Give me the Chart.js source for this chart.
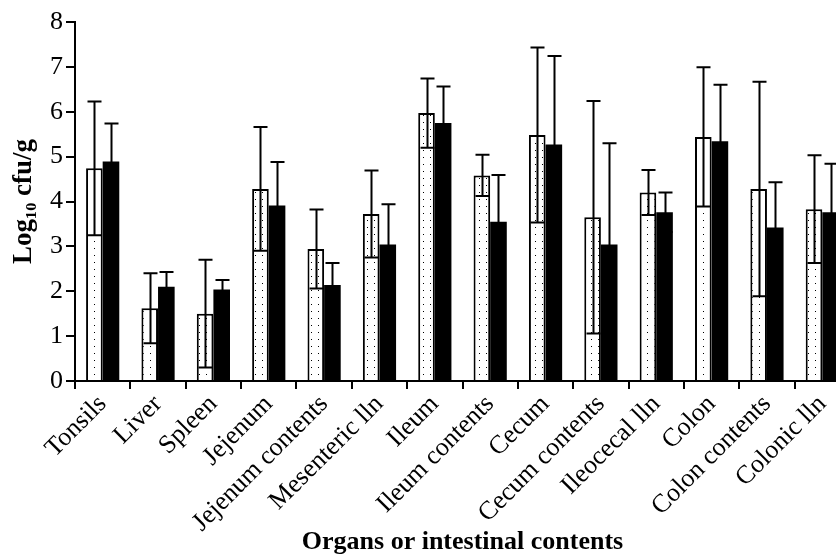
<!DOCTYPE html>
<html>
<head>
<meta charset="utf-8">
<script src="https://cdn.jsdelivr.net/npm/chart.js@4.4.1/dist/chart.umd.min.js"></script>
<style>
  html, body { margin: 0; padding: 0; background: #fff; overflow: hidden; }
  #wrap { width: 850px; height: 555px; }
</style>
</head>
<body>
<div id="wrap"><canvas id="organChart"></canvas></div>
<script>
const organs = ["Tonsils", "Liver", "Spleen", "Jejenum", "Jejenum contents", "Mesenteric lln", "Ileum",
  "Ileum contents", "Cecum", "Cecum contents", "Ileocecal lln", "Colon", "Colon contents", "Colonic lln"];

// dotted bars
const dottedMeans = [4.74, 1.62, 1.50, 4.28, 2.94, 3.72, 5.97, 4.58, 5.48, 3.65, 4.20, 5.44, 4.28, 3.83];
const dottedSd = [1.49, 0.78, 1.20, 1.38, 0.88, 0.97, 0.77, 0.46, 1.95, 2.59, 0.50, 1.55, 2.39, 1.20];

// black bars
const blackMeans = [4.89, 2.10, 2.04, 3.91, 2.14, 3.04, 5.75, 3.55, 5.27, 3.04, 3.76, 5.34, 3.42, 3.76];
const blackSd = [0.85, 0.33, 0.21, 0.97, 0.49, 0.90, 0.81, 1.04, 1.97, 2.26, 0.44, 1.26, 1.01, 1.08];

const yTicks = [0, 1, 2, 3, 4, 5, 6, 7, 8];

const serif = "'Liberation Serif', 'Times New Roman', serif";

function makeDots() {
  const c = document.createElement("canvas");
  c.width = 7;
  c.height = 7;
  const g = c.getContext("2d");
  g.fillStyle = "#fff";
  g.fillRect(0, 0, 7, 7);
  g.fillStyle = "#000";
  g.fillRect(3, 3, 1, 1);
  return g.createPattern(c, "repeat");
}

// draws mean +/- sd whiskers on every bar
const errorBars = {
  id: "errorBars",
  afterDatasetsDraw(chart) {
    const ctx = chart.ctx;
    const yScale = chart.scales.y;
    ctx.save();
    ctx.strokeStyle = "#000";
    ctx.lineWidth = 2;
    chart.data.datasets.forEach((ds, i) => {
      chart.getDatasetMeta(i).data.forEach((bar, j) => {
        let x = Math.round(bar.x) + 0.5;
        let hi = yScale.getPixelForValue(ds.data[j] + ds.sd[j]);
        let lo = yScale.getPixelForValue(ds.data[j] - ds.sd[j]);
        ctx.beginPath();
        ctx.moveTo(x, lo);
        ctx.lineTo(x, hi);
        ctx.moveTo(x - 7, hi);
        ctx.lineTo(x + 7, hi);
        ctx.moveTo(x - 7, lo);
        ctx.lineTo(x + 7, lo);
        ctx.stroke();
      });
    });
    ctx.restore();
  },
};

const organChart = new Chart(document.getElementById("organChart"), {
  type: "bar",
  data: {
    labels: organs,
    datasets: [
      {
        data: dottedMeans,
        sd: dottedSd,
        backgroundColor: makeDots(),
        borderColor: "#000",
        borderWidth: 2,
        borderSkipped: "bottom",
      },
      {
        data: blackMeans,
        sd: blackSd,
        backgroundColor: "#000",
        borderColor: "#000",
        borderWidth: 0,
      },
    ],
  },
  options: {
    responsive: true,
    maintainAspectRatio: false,
    animation: false,
    layout: { padding: { left: 4, top: 22, right: 0, bottom: 0 } },
    datasets: { bar: { categoryPercentage: 0.6, barPercentage: 1.0 } },
    plugins: { legend: { display: false }, tooltip: { enabled: false } },
    scales: {
      x: {
        afterFit: (s) => { s.height = 174; },
        grid: { drawOnChartArea: false, color: "#000", lineWidth: 2, tickLength: 8, offset: true },
        border: { color: "#000", width: 2 },
        ticks: {
          autoSkip: false,
          maxRotation: 45,
          minRotation: 45,
          padding: 0,
          color: "#000",
          font: { family: serif, size: 26 },
        },
        title: {
          display: true,
          text: "Organs or intestinal contents",
          color: "#000",
          padding: { top: 0, bottom: -3 },
          font: { family: serif, size: 26, weight: "bold" },
        },
      },
      y: {
        min: 0,
        max: 8,
        afterFit: (s) => { s.width = 71; },
        afterBuildTicks: (s) => { s.ticks = yTicks.map((v) => ({ value: v })); },
        grid: { drawOnChartArea: false, color: "#000", lineWidth: 2, tickLength: 9 },
        border: { color: "#000", width: 2 },
        ticks: { padding: 3, color: "#000", font: { family: serif, size: 26 } },
        title: {
          display: true,
          text: "Log₁₀ cfu/g",
          color: "#000",
          padding: { top: 4, bottom: 4 },
          font: { family: serif, size: 27, weight: "bold" },
        },
      },
    },
  },
  plugins: [errorBars],
});
</script>
</body>
</html>
